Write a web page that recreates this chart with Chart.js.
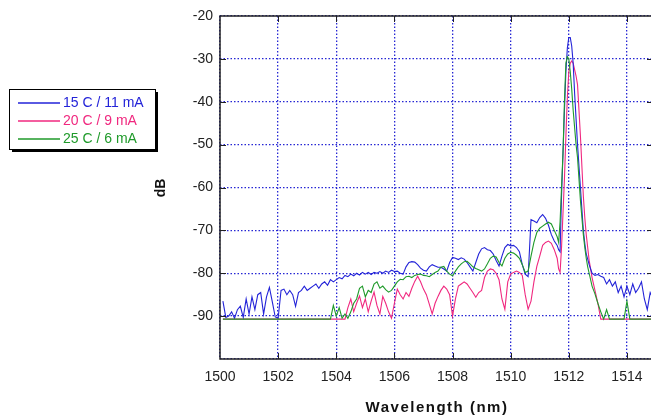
<!DOCTYPE html>
<html>
<head>
<meta charset="utf-8">
<script src="https://cdn.jsdelivr.net/npm/chart.js@4.4.0/dist/chart.umd.min.js"></script>
<style>
  html, body { margin: 0; padding: 0; background: #fff; overflow: hidden; }
  #wrap { position: absolute; left: 0; top: 0; width: 662px; height: 416px; }
</style>
</head>
<body>
<div id="wrap"><canvas id="chart" width="662" height="416"></canvas></div>
<script>
// wavelength samples (nm), shared by all three traces
const wavelength = [
  1500.1, 1500.2, 1500.3, 1500.4, 1500.5, 1500.6, 1500.7, 1500.8, 1500.9,
  1501.0, 1501.1, 1501.2, 1501.3, 1501.4, 1501.5, 1501.6, 1501.7, 1501.8, 1501.9,
  1502.0, 1502.1, 1502.2, 1502.3, 1502.4, 1502.5, 1502.6, 1502.7, 1502.8, 1502.9,
  1503.0, 1503.1, 1503.2, 1503.3, 1503.4, 1503.5, 1503.6, 1503.7, 1503.8, 1503.9,
  1504.0, 1504.1, 1504.2, 1504.3, 1504.4, 1504.5, 1504.6, 1504.7, 1504.8, 1504.9,
  1505.0, 1505.1, 1505.2, 1505.3, 1505.4, 1505.5, 1505.6, 1505.7, 1505.8, 1505.9,
  1506.0, 1506.1, 1506.2, 1506.3, 1506.4, 1506.5, 1506.6, 1506.7, 1506.8, 1506.9,
  1507.0, 1507.1, 1507.2, 1507.3, 1507.4, 1507.5, 1507.6, 1507.7, 1507.8, 1507.9,
  1508.0, 1508.1, 1508.2, 1508.3, 1508.4, 1508.5, 1508.6, 1508.7, 1508.8, 1508.9,
  1509.0, 1509.1, 1509.2, 1509.3, 1509.4, 1509.5, 1509.6, 1509.7, 1509.8, 1509.9,
  1510.0, 1510.1, 1510.2, 1510.3, 1510.4, 1510.5, 1510.6, 1510.7, 1510.8, 1510.9,
  1511.0, 1511.1, 1511.2, 1511.3, 1511.4, 1511.5, 1511.6,
  1511.65, 1511.7, 1511.75, 1511.8, 1511.85, 1511.9, 1511.95, 1512.0,
  1512.05, 1512.1, 1512.15, 1512.2, 1512.25, 1512.3, 1512.35, 1512.4,
  1512.45, 1512.5, 1512.55, 1512.6, 1512.65, 1512.7, 1512.75, 1512.8,
  1512.9, 1513.0, 1513.1, 1513.2, 1513.3, 1513.4, 1513.5, 1513.6, 1513.7, 1513.8, 1513.9,
  1514.0, 1514.1, 1514.2, 1514.3, 1514.4, 1514.5, 1514.6, 1514.7, 1514.8, 1514.9, 1515.0
];

// 15 C / 11 mA
const blueDb = [
  -86.5, -90.3, -90.0, -89.0, -90.5, -88.5, -87.7, -90.3, -86.0,
  -89.5, -85.5, -88.5, -85.0, -84.5, -89.5, -85.5, -83.3, -86.7, -90.2,
  -90.5, -84.0, -83.7, -85.0, -84.0, -85.0, -87.7, -84.5, -84.0, -83.0,
  -84.0, -83.5, -83.0, -82.5, -83.5, -82.5, -82.0, -82.8, -81.5, -82.0,
  -81.5, -81.0, -81.3, -80.5, -80.8, -80.2, -80.6, -80.0, -80.4, -79.8,
  -80.2, -79.8, -80.3, -79.8, -80.0, -79.6, -80.0, -79.5, -79.8, -79.3,
  -79.6, -79.5, -80.0, -80.2, -78.5, -77.5, -77.3, -77.4, -78.0, -78.8,
  -79.3, -79.5, -78.5, -78.0, -78.3, -78.6, -78.6, -79.0, -79.5, -77.5,
  -76.3, -76.5, -76.8, -76.4, -76.7, -77.5, -78.5, -79.5, -77.5, -75.5,
  -74.3, -74.0, -74.5, -74.7, -75.5, -77.0, -78.3, -76.0, -74.0, -73.3,
  -73.6, -73.5, -74.0, -75.0, -78.0, -80.2, -80.8, -67.5, -67.8, -68.2,
  -67.0, -66.3, -67.2, -68.8, -71.0, -72.5, -73.5,
  -74.5, -75.0, -62.0, -52.0, -42.0, -33.0, -27.5, -25.0,
  -25.0, -27.0, -31.0, -38.0, -44.0, -50.0, -55.0, -60.0,
  -65.0, -70.0, -73.0, -75.5, -76.7, -78.0, -79.0, -80.0,
  -80.5, -80.3, -80.7, -81.0, -82.5, -81.5, -83.0, -82.0, -84.5, -83.0, -85.5,
  -83.0, -85.0, -82.5, -84.5, -83.5, -82.0, -86.0, -88.5, -84.5, -86.0, -85.0
];

// 20 C / 9 mA
const pinkDb = [
  -90.7, -90.7, -90.7, -90.7, -90.7, -90.7, -90.7, -90.7, -90.7,
  -90.7, -90.7, -90.7, -90.7, -90.7, -90.7, -90.7, -90.7, -90.7, -90.7,
  -90.7, -90.7, -90.7, -90.7, -90.7, -90.7, -90.7, -90.7, -90.7, -90.7,
  -90.7, -90.7, -90.7, -90.7, -90.7, -90.7, -90.7, -90.7, -90.7, -90.7,
  -90.7, -90.7, -90.7, -90.7, -88.0, -86.0, -89.0, -87.0, -85.3, -88.0,
  -86.0, -89.0, -86.5, -84.4, -87.5, -89.5, -85.4, -87.0, -89.0, -90.5,
  -87.0, -83.7, -85.0, -86.0, -84.5, -85.4, -83.5, -81.9, -80.7, -82.0,
  -83.7, -85.0, -87.2, -89.5, -87.0, -85.4, -84.0, -83.0, -83.7, -85.0,
  -90.0, -86.0, -83.0, -82.5, -82.0, -82.5, -83.5, -84.5, -85.6, -84.5,
  -84.0, -81.0, -79.5, -79.0, -79.2, -80.0, -81.5, -86.0, -88.4, -82.0,
  -80.2, -79.8, -79.5, -79.8, -80.5, -85.0, -88.4, -86.5, -82.0, -78.4,
  -76.0, -73.5, -72.8, -72.5, -73.0, -74.5, -76.5,
  -79.0, -79.8, -74.0, -66.0, -58.0, -48.0, -39.0, -33.0,
  -31.0, -30.5, -31.0, -32.5, -34.0, -36.0, -42.0, -48.0,
  -55.0, -62.0, -67.0, -71.0, -74.0, -77.0, -79.0, -81.0,
  -84.0, -87.0, -90.7, -90.7, -90.7, -90.7, -90.7, -90.7, -90.7, -90.7, -90.7,
  -90.7, -90.7, -90.7, -90.7, -90.7, -90.7, -90.7, -90.7, -90.7, -90.7, -90.7
];

// 25 C / 6 mA
const greenDb = [
  -90.7, -90.7, -90.7, -90.7, -90.7, -90.7, -90.7, -90.7, -90.7,
  -90.7, -90.7, -90.7, -90.7, -90.7, -90.7, -90.7, -90.7, -90.7, -90.7,
  -90.7, -90.7, -90.7, -90.7, -90.7, -90.7, -90.7, -90.7, -90.7, -90.7,
  -90.7, -90.7, -90.7, -90.7, -90.7, -90.7, -90.7, -90.7, -90.7, -87.5,
  -90.0, -88.0, -90.5, -89.5, -90.5, -89.0, -87.0, -86.0, -83.5, -83.0,
  -85.5, -84.0, -84.5, -82.5, -82.0, -83.5, -83.0, -83.8, -84.4, -84.0,
  -83.0, -82.0, -81.4, -81.5, -80.8, -80.7, -81.0, -80.5, -80.3, -80.2,
  -80.5, -80.6, -80.8, -80.3, -79.8, -79.5, -78.6, -78.4, -79.5, -80.2,
  -80.6, -79.5, -78.5, -77.8, -77.3, -77.2, -77.8, -78.5, -78.9, -79.2,
  -79.5, -79.0, -77.8, -76.5, -76.0, -76.2, -77.5, -78.3, -76.5, -75.5,
  -75.1, -75.3, -75.8, -76.5, -78.0, -79.8, -79.5, -76.0, -72.8, -70.5,
  -69.5, -69.0, -68.5, -68.1, -68.5, -70.0, -71.5,
  -72.8, -68.0, -60.0, -52.0, -40.0, -31.0, -29.5, -30.0,
  -33.0, -37.0, -42.0, -46.0, -50.0, -53.0, -58.0, -63.0,
  -67.0, -71.0, -74.0, -76.5, -78.5, -80.0, -81.5, -83.0,
  -84.8, -87.0, -89.0, -90.7, -88.5, -90.7, -90.7, -90.7, -90.7, -90.7, -90.7,
  -86.5, -90.7, -90.7, -90.7, -90.7, -90.7, -90.7, -90.7, -90.7, -90.7, -90.7
];

const seriesLabels = ['15 C / 11 mA', '20 C / 9 mA', '25 C / 6 mA'];
const seriesColors = ['#2323d8', '#f0287f', '#1f9a2a'];
const yTicks = [-20, -30, -40, -50, -60, -70, -80, -90];

function points(ys) {
  return wavelength.map((x, i) => ({ x: x, y: ys[i] }));
}

const FONT = "'Liberation Sans', Arial, sans-serif";

// frame, inward tick marks, axis titles and the boxed legend
const decor = {
  id: 'decor',
  afterDraw(chart) {
    const c = chart.ctx;
    const a = chart.chartArea;
    const xs = chart.scales.x, ys = chart.scales.y;
    c.save();
    c.setLineDash([]);
    c.strokeStyle = '#222';
    c.lineWidth = 1.5;
    c.strokeRect(a.left, a.top, a.right - a.left, a.bottom - a.top);
    c.lineWidth = 1;
    c.beginPath();
    for (let v = 1502; v <= 1514; v += 2) {
      const px = Math.round(xs.getPixelForValue(v)) + 0.5;
      c.moveTo(px, a.bottom); c.lineTo(px, a.bottom - 6);
      c.moveTo(px, a.top); c.lineTo(px, a.top + 6);
    }
    for (let v = -30; v >= -90; v -= 10) {
      const py = Math.round(ys.getPixelForValue(v)) + 0.5;
      c.moveTo(a.left, py); c.lineTo(a.left + 6, py);
      c.moveTo(a.right, py); c.lineTo(a.right - 9, py);
    }
    c.stroke();

    // axis titles
    c.fillStyle = '#111';
    c.font = 'bold 15px ' + FONT;
    c.textAlign = 'center';
    c.textBaseline = 'middle';
    c.letterSpacing = '1.5px';
    c.fillText('Wavelength (nm)', 437, 408);
    c.letterSpacing = '0px';
    c.save();
    c.translate(161, 188);
    c.rotate(-Math.PI / 2);
    c.font = 'bold 14px ' + FONT;
    c.fillText('dB', 0, 0);
    c.restore();

    // legend box with shadow
    const bx = 9, by = 89, bw = 146, bh = 60;
    c.fillStyle = '#000';
    c.fillRect(bx + 3, by + 3, bw, bh);
    c.fillStyle = '#fff';
    c.fillRect(bx, by, bw, bh);
    c.strokeStyle = '#000';
    c.lineWidth = 1;
    c.strokeRect(bx + 0.5, by + 0.5, bw, bh);
    c.font = '14px ' + FONT;
    c.textAlign = 'left';
    chart.data.datasets.forEach((ds, i) => {
      const ly = 103 + i * 18;
      c.strokeStyle = seriesColors[i];
      c.lineWidth = 1.6;
      c.beginPath();
      c.moveTo(18, ly);
      c.lineTo(60, ly);
      c.stroke();
      c.fillStyle = seriesColors[i];
      c.fillText(ds.label, 63, ly + 0.5);
    });
    c.restore();
  }
};

new Chart(document.getElementById('chart').getContext('2d'), {
  type: 'line',
  data: {
    datasets: [
      { label: seriesLabels[0], data: points(blueDb), borderColor: seriesColors[0], order: 1 },
      { label: seriesLabels[1], data: points(pinkDb), borderColor: seriesColors[1], order: 2 },
      { label: seriesLabels[2], data: points(greenDb), borderColor: seriesColors[2], order: 0 }
    ]
  },
  options: {
    responsive: false,
    animation: false,
    layout: { padding: { left: 0, right: 6, top: 16, bottom: 0 } },
    elements: {
      line: { borderWidth: 1.1, tension: 0, fill: false },
      point: { radius: 0 }
    },
    plugins: { legend: { display: false }, tooltip: { enabled: false } },
    scales: {
      x: {
        type: 'linear',
        min: 1500,
        max: 1515,
        afterFit: s => { s.height = 57; },
        ticks: {
          stepSize: 2,
          includeBounds: false,
          padding: 10,
          color: '#222',
          font: { family: FONT, size: 14 },
          callback: v => (v % 2 === 0 && v < 1515 ? String(v) : '')
        },
        grid: { color: '#2626d4', lineWidth: 1.3, drawTicks: false },
        border: { display: false, dash: [1.5, 2] }
      },
      y: {
        type: 'linear',
        min: -100,
        max: -20,
        afterFit: s => { s.width = 220; },
        ticks: {
          stepSize: 10,
          padding: 7,
          color: '#222',
          font: { family: FONT, size: 14 },
          callback: v => (yTicks.includes(v) ? String(v) : '')
        },
        grid: { color: '#2626d4', lineWidth: 1.3, drawTicks: false },
        border: { display: false, dash: [1.5, 2] }
      }
    }
  },
  plugins: [decor]
});
</script>
</body>
</html>
